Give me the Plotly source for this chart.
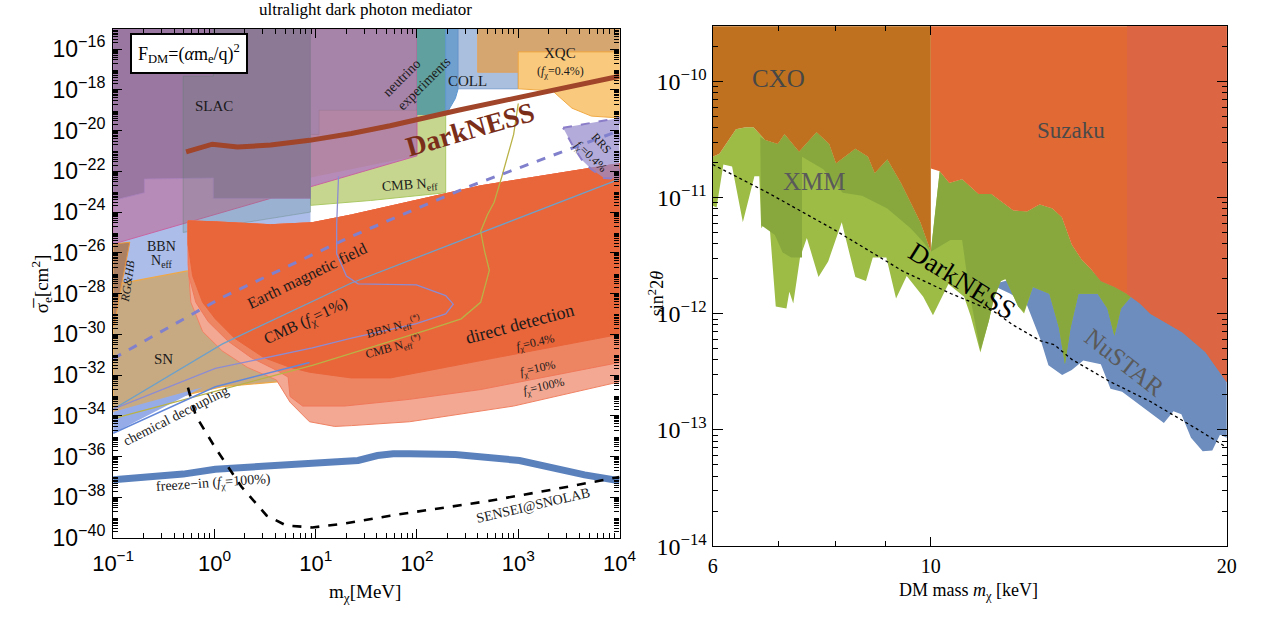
import plotly.graph_objects as go

# ---------------- LEFT PANEL DATA (m in MeV, log10 sigma_e in cm^2) ----------------
CMBNeff_m = [8.88, 192, 192, 34.9, 8.88]
CMBNeff_ls = [-15, -15, -23.05, -23.43, -23.67]

BBN_m = [0.1, 8.88, 8.88, 0.1]
BBN_ls = [-15, -15, -27.6, -27.6]

Pink_m = [0.1, 100, 100, 0.1]
Pink_ls = [-15, -15, -21.24, -25.57]

Purple_m = [0.1, 8.88, 8.88, 0.975, 0.975, 0.203, 0.203, 0.1]
Purple_ls = [-15, -15, -23.33, -23.33, -22.33, -22.38, -23.05, -23.43]

SLAC_m = [0.491, 0.975, 0.975, 8.88, 8.88, 0.491]
SLAC_ls = [-17.33, -17.33, -15, -15, -24.0, -25.0]

NuExp_m = [8.88, 100, 100, 10.8, 10.8, 8.88]
NuExp_ls = [-15, -15, -19.0, -19.0, -20.19, -20.19]

NuLow_m = [8.88, 10.8, 10.8, 100, 100, 8.88]
NuLow_ls = [-20.19, -20.19, -19.0, -19.0, -21.24, -22.3]

Teal_m = [100, 192, 192, 100]
Teal_ls = [-15, -15, -19.24, -19.24]

COLL1_m = [192, 255, 255, 239, 192]
COLL1_ls = [-15, -15, -17.95, -18.43, -19.24]

COLL2_m = [255, 1000, 1000, 255]
COLL2_ls = [-15, -15, -17.95, -17.95]

XQC1_m = [397, 10000, 10000, 1000, 1000, 397]
XQC1_ls = [-15, -15, -16.14, -16.14, -17.14, -17.14]

XQC2_m = [1000, 10000, 10000, 5270, 3390, 2180, 1000]
XQC2_ls = [-16.14, -16.14, -19.38, -19.29, -18.9, -18.05, -17.95]

SN_m = [0.1, 0.525, 3.07, 18, 18, 6.96, 1.19, 0.1]
SN_ls = [-27.57, -26.9, -26.5, -26.8, -32.0, -32.24, -32.57, -33.8]

RGHB_m = [0.1, 0.146, 0.112, 0.104, 0.1]
RGHB_ls = [-25.57, -25.48, -28.43, -29.52, -29.6]

Chem_m = [0.1, 0.764, 0.1]
Chem_ls = [-33.8, -32.6, -34.86]

ChemLine_m = [0.1, 1.02, 8.68]
ChemLine_ls = [-34.86, -32.57, -31.38]

DDtop_m = [0.548, 1.02, 3.59, 9.27, 22.5, 425, 10000]
DDtop_ls = [-24.43, -24.48, -24.62, -24.52, -24.14, -22.71, -21.62]

DD100_m = [10000, 900, 84.6, 22.5, 15.4, 8.68, 5.58, 4.09, 2.11, 1.19, 0.764, 0.585, 0.548]
DD100_ls = [-32.33, -33.52, -34.29, -34.48, -34.52, -34.29, -33.33, -32.24, -31.62, -30.81, -29.86, -28.43, -26.52]

DD10_m = [10000, 425, 84.6, 19.2, 7.43, 5.58, 5.34, 4.09, 2.3, 1.36, 0.87, 0.655, 0.56, 0.548]
DD10_ls = [-31.38, -32.71, -33.19, -33.52, -33.52, -33.05, -32.1, -31.76, -31.14, -30.33, -29.38, -28.43, -27.14, -25.1]

DD04_m = [10000, 425, 54.3, 22.5, 8.68, 5.58, 3.07, 1.58, 1.02, 0.764, 0.61, 0.548]
DD04_ls = [-30.0, -31.29, -32.14, -32.14, -31.86, -31.62, -31.14, -30.19, -29.24, -28.43, -27.14, -25.57]

RRS_m = [2770, 10000, 10000, 7020, 5270, 4230, 3390, 2900]
RRS_ls = [-19.86, -19.38, -22.38, -22.33, -21.9, -21.43, -20.67, -20.0]

Earth_m = [0.1, 1.19, 22.5, 340, 10000]
Earth_ls = [-31.19, -28.19, -25.19, -22.71, -20.0]

CMB1_m = [0.1, 1.19, 22.5, 3870, 10000]
CMB1_ls = [-33.67, -30.48, -27.48, -23.19, -22.38]

BBNc_m = [16.8, 16.1, 16.1, 20.1, 26.2, 98.7, 192, 228, 192, 98.7, 22.5, 9.27, 1.02, 0.1]
BBNc_ls = [-22.24, -24.62, -26.05, -27.14, -27.52, -27.57, -28.10, -28.52, -29.0, -29.48, -30.19, -30.67, -31.67, -33.67]

CMBNc_m = [0.1, 1.02, 9.27, 132, 273, 425, 518, 464, 425, 495, 578, 690, 900, 1000]
CMBNc_ls = [-34.14, -32.81, -31.52, -29.76, -29.24, -28.43, -26.86, -25.9, -24.95, -24.14, -23.52, -22.24, -20.19, -18.67]

DarkL_m = [0.525, 0.953, 1.69, 3.59, 8.68, 22.5, 54.3, 255, 10000]
DarkL_ls = [-21.05, -20.67, -20.81, -20.71, -20.48, -20.14, -19.76, -19.0, -17.33]

Freeze_m = [0.1, 0.491, 1.02, 9.27, 26.2, 40.7, 58.1, 84.6, 239, 1027, 4520, 10000]
Freeze_ls = [-37.14, -36.86, -36.62, -36.29, -36.19, -35.95, -35.86, -35.86, -35.90, -36.19, -36.90, -37.19]

Sensei_m = [0.548, 0.655, 1.02, 1.85, 3.28, 5.10, 9.27, 19.2, 54.3, 495, 2180, 10000]
Sensei_ls = [-32.62, -34.0, -35.57, -37.48, -38.90, -39.38, -39.48, -39.29, -38.90, -38.19, -37.62, -37.0]

left_xticks = [0.1, 1, 10, 100, 1000, 10000]
left_xtext = ["10<sup>−1</sup>", "10<sup>0</sup>", "10<sup>1</sup>", "10<sup>2</sup>", "10<sup>3</sup>", "10<sup>4</sup>"]
left_yexp = [-16, -18, -20, -22, -24, -26, -28, -30, -32, -34, -36, -38, -40]

# ---------------- RIGHT PANEL DATA (m in keV, log10 sin^2 2theta) ----------------
CXO_bot_m = [6.0, 6.096, 6.336, 6.483, 6.602, 6.784, 6.987, 7.099, 7.345, 7.652, 7.881, 8.008,
             8.380, 8.630, 8.769, 9.031, 9.323, 9.756, 10.0]
CXO_bot_ls = [-10.649, -10.623, -10.413, -10.396, -10.396, -10.505, -10.539, -10.455, -10.607, -10.438,
              -10.539, -10.708, -10.581, -10.649, -10.792, -10.674, -10.876, -11.213, -11.466]

Suz_bot_m = [10.0, 10.21, 10.44, 10.76, 11.18, 11.52, 12.13, 12.53, 12.90, 13.29, 13.59, 13.91, 14.23,
             14.55, 14.89, 15.37, 15.83, 16.31, 16.72, 18.02, 19.02, 20.0]
Suz_bot_ls = [-10.75, -10.775, -10.876, -10.842, -10.969, -10.969, -11.112, -11.12, -11.06, -11.095, -11.17,
              -11.407, -11.533, -11.618, -11.72, -11.77, -11.83, -11.91, -12.0, -12.16, -12.33, -12.59]

XMM_low_m = [6.0, 6.055, 6.152, 6.279, 6.439, 6.616, 6.692, 6.722, 6.845, 6.955, 7.131, 7.180, 7.246, 7.362,
             7.480, 7.687, 7.863, 8.117, 8.380, 8.591, 8.729, 9.011, 9.218, 9.451, 9.823, 10.05, 10.42,
             10.81, 10.98, 11.23, 11.46, 11.59, 11.78, 11.91, 12.27, 12.44, 12.70, 13.20, 13.50, 13.69,
             13.87, 14.13, 14.78, 15.12, 15.37, 15.61, 16.01]
XMM_low_ls = [-11.07, -11.087, -10.716, -10.733, -11.213, -10.817, -10.817, -11.264, -11.171, -11.938, -11.955,
              -11.811, -11.912, -11.516, -11.348, -11.685, -11.550, -11.213, -11.685, -11.719, -11.516, -11.516,
              -11.870, -11.676, -11.853, -12.013, -11.744, -11.853, -12.022, -12.334, -12.056, -11.870, -11.719,
              -11.702, -11.938, -11.997, -11.769, -11.828, -12.123, -12.435, -12.123, -11.828, -11.828, -11.954,
              -12.19, -11.954, -11.845]

XMMdark_low_m = [16.01, 15.61, 15.37, 15.12, 14.78, 14.13, 13.87, 13.69, 13.50, 13.20, 12.70, 12.44, 12.27,
                 11.91, 11.78, 11.59, 11.46, 11.23, 10.95, 10.76, 10.47, 10.0, 9.823, 9.537, 9.031, 8.513,
                 8.135, 7.774, 7.396, 7.396, 7.214, 7.068, 6.941, 6.722, 6.707]
XMMdark_low_ls = [-11.845, -11.954, -12.19, -11.954, -11.828, -11.828, -12.123, -12.435, -12.123, -11.828,
                  -11.769, -11.98, -11.938, -11.702, -11.719, -11.870, -12.056, -12.317, -11.828, -11.365,
                  -11.365, -11.466, -11.382, -11.264, -11.095, -10.986, -10.960, -10.758, -10.649, -11.516,
                  -11.516, -11.474, -11.323, -11.238, -10.48]

NuSTAR_m = [11.59, 12.61, 13.32, 15.83, 20.0, 20.0, 19.68, 19.33, 18.90, 18.39, 17.98, 17.65, 17.26, 15.65,
            15.23, 14.89, 14.29, 13.91, 13.60, 13.17, 12.93, 12.70, 12.53, 12.05, 11.59]
NuSTAR_ls = [-11.744, -11.66, -11.592, -11.70, -12.08, -13.066, -13.041, -13.176, -13.184, -13.066, -12.864,
             -12.839, -12.940, -12.671, -12.645, -12.435, -12.402, -12.485, -12.527, -12.443, -12.224, -12.056,
             -11.929, -11.828, -11.761]

DarkR_m = [6.0, 6.830, 7.989, 9.366, 10.49, 11.59, 12.13, 12.93, 13.35, 13.91, 15.23, 16.72, 18.64, 20.0]
DarkR_ls = [-10.716, -10.960, -11.281, -11.634, -11.828, -11.980, -12.098, -12.233, -12.266, -12.393,
            -12.586, -12.755, -12.991, -13.151]

right_yexp = [-10, -11, -12, -13, -14]
right_xticks = [6, 10, 20]
TOP_R = -9.3

# ---------------- PAGE GEOMETRY ----------------
W, H = 1271, 626

def fx(px):
    return px / W

def fy(py):
    return 1 - py / H

# ---------------- FIGURE ----------------
fig = go.Figure()

def poly(xs, ls, fill, line=None, lw=0.0, ax="", dash=None):
    fig.add_trace(go.Scatter(
        x=list(xs) + [xs[0]], y=[10 ** v for v in ls] + [10 ** ls[0]],
        mode="lines", fill="toself", fillcolor=fill,
        line=dict(color=line or fill, width=lw, dash=dash),
        xaxis="x" + ax, yaxis="y" + ax, hoverinfo="skip", showlegend=False))

def curve(xs, ls, color, width, dash=None, ax=""):
    fig.add_trace(go.Scatter(
        x=xs, y=[10 ** v for v in ls], mode="lines",
        line=dict(color=color, width=width, dash=dash),
        xaxis="x" + ax, yaxis="y" + ax, hoverinfo="skip", showlegend=False))

# left polygons
poly(CMBNeff_m, CMBNeff_ls, "rgb(199,214,142)", "rgb(170,200,100)", 1)
poly(BBN_m, BBN_ls, "rgb(172,189,234)")
poly(Pink_m, Pink_ls, "rgb(183,139,183)", "rgb(200,100,160)", 1)
poly(Purple_m, Purple_ls, "rgb(153,119,160)", "rgb(170,130,190)", 0.8)
poly(SLAC_m, SLAC_ls, "rgba(90,130,110,0.2)", "rgba(90,130,110,0.45)", 0.8)
poly(NuExp_m, NuExp_ls, "rgba(110,110,125,0.22)", "rgba(150,120,150,0.6)", 0.8)
poly(NuLow_m, NuLow_ls, "rgba(160,110,90,0.18)")
poly(Teal_m, Teal_ls, "rgb(96,160,158)")
poly(COLL1_m, COLL1_ls, "rgb(112,160,206)", "rgb(90,150,210)", 1)
poly(COLL2_m, COLL2_ls, "rgb(169,191,221)", "rgb(110,150,200)", 0.8)
poly(XQC1_m, XQC1_ls, "rgb(213,166,112)", "rgb(230,160,80)", 0.8)
poly(XQC2_m, XQC2_ls, "rgb(249,201,125)", "rgb(240,170,70)", 1)
poly(SN_m, SN_ls, "rgb(200,170,130)", "rgb(240,168,70)", 1.2)
poly(RGHB_m, RGHB_ls, "rgb(172,128,98)", "rgb(235,150,60)", 1)
poly(Chem_m, Chem_ls, "rgb(150,172,232)")
poly(DDtop_m + DD100_m, DDtop_ls + DD100_ls, "rgb(242,168,146)", "rgb(240,130,100)", 1)
poly(DDtop_m + DD10_m, DDtop_ls + DD10_ls, "rgb(237,132,98)", "rgb(240,120,90)", 1)
poly(DDtop_m + DD04_m, DDtop_ls + DD04_ls, "rgb(233,101,58)", "rgb(233,101,58)", 1)
poly(RRS_m, RRS_ls, "rgba(150,140,205,0.72)", "rgb(140,125,200)", 2, dash="dash")

# left lines
curve(CMB1_m, CMB1_ls, "rgb(110,160,200)", 1.3)
curve(BBNc_m, BBNc_ls, "rgb(140,140,210)", 1.3)
curve(CMBNc_m, CMBNc_ls, "rgb(185,178,70)", 1.3)
curve(ChemLine_m, ChemLine_ls, "rgb(100,136,216)", 1.6)
curve(Earth_m, Earth_ls, "rgb(128,128,205)", 3, dash="dash")
curve(DarkL_m, DarkL_ls, "rgb(160,68,42)", 5)
curve(Freeze_m, Freeze_ls, "rgb(91,129,189)", 7)
curve(Sensei_m, Sensei_ls, "black", 2.6, dash="dash")

# right polygons
poly(NuSTAR_m, NuSTAR_ls, "rgb(108,141,190)", ax="2")
poly(CXO_bot_m + Suz_bot_m[1:17] + XMM_low_m[::-1], CXO_bot_ls + Suz_bot_ls[1:17] + XMM_low_ls[::-1],
     "rgb(156,188,70)", ax="2")
poly(CXO_bot_m[5:] + Suz_bot_m[1:17] + XMMdark_low_m, CXO_bot_ls[5:] + Suz_bot_ls[1:17] + XMMdark_low_ls,
     "rgb(136,168,62)", ax="2")
poly([6.0] + CXO_bot_m + [10.0], [TOP_R] + CXO_bot_ls + [TOP_R], "rgb(191,113,31)", ax="2")
poly([10.0] + Suz_bot_m + [20.0], [TOP_R] + Suz_bot_ls + [TOP_R], "rgb(225,105,52)", ax="2")
poly([15.83] + Suz_bot_m[16:] + [20.0], [TOP_R] + Suz_bot_ls[16:] + [TOP_R], "rgb(220,101,68)", ax="2")
curve(DarkR_m, DarkR_ls, "black", 1.3, dash="dot", ax="2")

# ---------------- ANNOTATIONS ----------------
SERIF = "Liberation Serif"
SANS = "Liberation Sans"
ann = []

def lab(x, y, t, size, color="#1a1a1a", angle=0, ax="", family=SERIF, **kw):
    d = dict(x=x, y=y, xref="x" + ax, yref="y" + ax, text=t, showarrow=False,
             xanchor="center", yanchor="middle",
             font=dict(family=family, size=size, color=color), textangle=angle)
    d.update(kw)
    ann.append(d)

def plab(px, py, t, size, angle=0):
    ann.append(dict(x=fx(px), y=fy(py), xref="paper", yref="paper", text=t, showarrow=False,
                    xanchor="center", yanchor="middle", textangle=angle,
                    font=dict(family=SERIF, size=size, color="black")))

lab(-0.251, -16.22, "F<sub>DM</sub>=(<i>α</i>m<sub>e</sub>/q)<sup>2</sup>", 18, "black",
    bordercolor="black", borderwidth=2, bgcolor="white", borderpad=6)
lab(0.0, -18.81, "SLAC", 15)
lab(1.85, -17.38, "neutrino", 14, angle=-45)
lab(2.071, -17.71, "experiments", 14, angle=-45)
lab(2.503, -17.57, "COLL", 15)
lab(3.415, -16.19, "XQC", 15)
lab(3.415, -17.14, "(<i>f</i><sub>χ</sub>=0.4%)", 12)
lab(2.52, -19.95, "<b>DarkNESS</b>", 28, "rgb(122,46,26)", angle=-16)
lab(3.818, -20.62, "RRS", 12, angle=48)
lab(3.712, -21.29, "<i>f</i><sub>χ</sub>=0.4%", 12, angle=44)
lab(1.927, -22.71, "CMB N<sub>eff</sub>", 14, angle=-4)
lab(-0.52, -25.71, "BBN", 14)
lab(-0.52, -26.45, "N<sub>eff</sub>", 14)
lab(-0.856, -27.38, "<i>RG&HB</i>", 12, angle=-82)
lab(-0.5, -31.19, "SN", 15)
lab(0.919, -27.14, "Earth magnetic field", 16, angle=-26)
lab(0.90, -29.38, "CMB (<i>f</i><sub>χ</sub>=1%)", 16, angle=-25)
lab(1.764, -29.67, "BBN N<sub>eff</sub><sup>(*)</sup>", 12, angle=-15)
lab(1.764, -30.67, "CMB N<sub>eff</sub><sup>(*)</sup>", 12, angle=-15)
lab(3.01, -29.48, "direct detection", 18, angle=-15)
lab(3.175, -30.43, "<i>f</i><sub>χ</sub>=0.4%", 12, angle=-13)
lab(3.194, -31.71, "<i>f</i><sub>χ</sub>=10%", 12, angle=-13)
lab(3.25, -32.57, "<i>f</i><sub>χ</sub>=100%", 12, angle=-13)
lab(-0.376, -34.0, "chemical decoupling", 14, angle=-27)
lab(-0.011, -37.33, "freeze−in (<i>f</i><sub>χ</sub>=100%)", 14, angle=-4)
lab(3.146, -38.38, "SENSEI@SNOLAB", 14, angle=-13)

lab(0.8452, -9.98, "CXO", 25, "#474747", ax="2")
lab(0.8817, -10.86, "XMM", 25, "#5a5a5a", ax="2")
lab(1.143, -10.42, "Suzaku", 23, "#4a4a4a", ax="2")
lab(1.0317, -11.72, "DarkNESS", 27, "black", angle=32, ax="2")
lab(1.197, -12.42, "NuSTAR", 25, "#5a5a5a", angle=38, ax="2")

plab(355, 10, "ultralight dark photon mediator", 17)
plab(355, 606, "m<sub>χ</sub>[MeV]", 19)
plab(22, 290, "σ̅<sub>e</sub>[cm<sup>2</sup>]", 19, angle=-90)
plab(977, 604, "DM mass <i>m</i><sub>χ</sub> [keV]", 18)
plab(655, 300, "sin<sup>2</sup>2<i>θ</i>", 18, angle=-90)

left_minor_y = [k * 10.0 ** e for e in range(-40, -15) for k in range(2, 10)]
left_minor_x = [k * 10.0 ** e for e in range(-1, 4) for k in range(2, 10)]
right_minor_y = [k * 10.0 ** e for e in range(-14, -9) for k in range(2, 10)]

axis_common = dict(showline=True, linecolor="black", linewidth=1.3, mirror="ticks", ticks="inside",
                   showgrid=False, zeroline=False, tickcolor="black")

fig.update_layout(
    width=W, height=H, margin=dict(l=0, r=0, t=0, b=0),
    paper_bgcolor="white", plot_bgcolor="white", showlegend=False,
    xaxis=dict(type="log", range=[-1, 4], domain=[fx(95), fx(617)], anchor="y",
               tickmode="array", tickvals=left_xticks, ticktext=left_xtext, ticklen=9,
               ticklabelstandoff=5,
               tickfont=dict(family=SANS, size=22, color="black"),
               minor=dict(tickmode="array", tickvals=left_minor_x, ticks="inside", ticklen=5, tickcolor="black"),
               **axis_common),
    yaxis=dict(type="log", range=[-40, -15], domain=[fy(549.5), fy(29.3)], anchor="x",
               tickmode="array", tickvals=[10.0 ** e for e in left_yexp],
               ticktext=["10<sup>−%d</sup>" % (-e) for e in left_yexp], ticklen=9,
               ticklabelstandoff=2,
               tickfont=dict(family=SANS, size=23, color="black"),
               minor=dict(tickmode="array", tickvals=left_minor_y, ticks="inside", ticklen=5, tickcolor="black"),
               **axis_common),
    xaxis2=dict(type="log", range=[0.77815, 1.30103], domain=[fx(713), fx(1243)], anchor="y2",
                tickmode="array", tickvals=right_xticks, ticktext=[str(v) for v in right_xticks], ticklen=9,
                ticklabelstandoff=2,
                tickfont=dict(family=SERIF, size=20, color="black"),
                minor=dict(tickmode="array", tickvals=[7, 8, 9], ticks="inside", ticklen=5, tickcolor="black"),
                **axis_common),
    yaxis2=dict(type="log", range=[-14, -9.526], domain=[fy(557.8), fy(26.7)], anchor="x2",
                tickmode="array", tickvals=[10.0 ** e for e in right_yexp],
                ticktext=["10<sup>−%d</sup>" % (-e) for e in right_yexp], ticklen=10,
                tickfont=dict(family=SERIF, size=24, color="black"),
                minor=dict(tickmode="array", tickvals=right_minor_y, ticks="inside", ticklen=5, tickcolor="black"),
                **axis_common),
    annotations=ann,
)

fig.write_html("out.html")
